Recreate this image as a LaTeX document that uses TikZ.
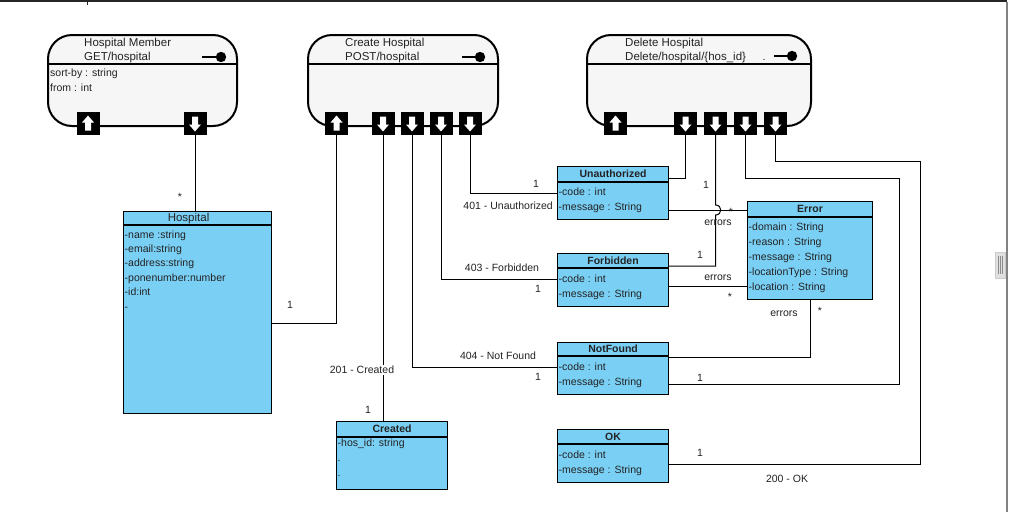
\documentclass[tikz,border=0pt]{standalone}
\usepackage{fontspec}
\setmainfont{Liberation Sans}
\usetikzlibrary{calc}

\definecolor{clsfill}{RGB}{122,207,245}
\definecolor{apifill}{RGB}{246,246,246}
\definecolor{txt}{RGB}{35,35,35}
\definecolor{framegray}{RGB}{130,130,130}

\tikzset{
  api/.style={draw=black, line width=2pt, fill=apifill, rounded corners=24pt,
    anchor=north west, inner sep=0},
  cls/.style={draw=black, line width=1.1pt, fill=clsfill, anchor=north west, inner sep=0},
  conn/.style={draw=black, line width=1pt},
  apititle/.style={anchor=west, inner sep=0, text=txt, font=\fontsize{11.5}{13}\selectfont},
  attr/.style={anchor=base west, inner sep=0, text=txt, font=\fontsize{10.5}{12}\selectfont},
  ttlbold/.style={inner sep=0, text=txt, font=\bfseries\fontsize{10.5}{12}\selectfont},
  ttlreg/.style={inner sep=0, text=txt, font=\fontsize{11.5}{12}\selectfont},
  lbl/.style={inner sep=0, text=txt, font=\fontsize{10.5}{12}\selectfont},
  portbase/.style={fill=black, minimum size=23pt, inner sep=0},
  portup/.style={portbase, path picture={
    \fill[white] ($(path picture bounding box.center)+(0,-8)$) -- ++(6,7) -- ++(-3,0)
      -- ++(0,8) -- ++(-6,0) -- ++(0,-8) -- ++(-3,0) -- cycle;}},
  portdown/.style={portbase, path picture={
    \fill[white] ($(path picture bounding box.center)+(0,8)$) -- ++(6,-7) -- ++(-3,0)
      -- ++(0,-8) -- ++(-6,0) -- ++(0,8) -- ++(-3,0) -- cycle;}},
}

% class box: name, top-left, width, height, header height, title, title style
\newcommand\umlclass[7]{%
  \node[cls, minimum width=#3pt, minimum height=#4pt] (#1) at (#2) {};
  \draw[line width=1.1pt] ([yshift=-#5pt]#1.north west) -- ([yshift=-#5pt]#1.north east);
  \node[#7] (#1-title) at ($(#1.north)+(0,#5/2)$) {#6};}

% attribute lines: node, first baseline offset, line spacing, list
\newcommand\umlattrs[4]{%
  \foreach \attrtext [count=\i from 0] in {#4}
    \node[attr] (#1-a\i) at ($(#1.north west)+(1.5,#2+#3*\i)$) {\attrtext};}

% endpoint box: name, top-left, width, title indent, two title lines
\newcommand\apibox[6]{%
  \node[api, minimum width=#3pt, minimum height=91pt] (#1) at (#2) {};
  \draw[line width=1.3pt] ([yshift=-30pt]#1.north west) -- ([yshift=-30pt]#1.north east);
  \node[apititle] (#1-t1) at ($(#1.north west)+(#4,9.5)$) {#5};
  \node[apititle] (#1-t2) at ($(#1.north west)+(#4,24)$) {#6};}

\begin{document}
\begin{tikzpicture}[x=1pt, y=-1pt]
  \useasboundingbox (0,0) rectangle (1009,512);
  \fill[white] (0,0) rectangle (1009,512);

  % window frame
  \draw[line width=2pt, black!85] (0,1) -- (1007,1);
  \draw[line width=1pt, black!85] (87,0) -- (87,5);
  \draw[line width=1.5pt, framegray] (1007,2) -- (1007,512);
  \node[draw=black!20, fill=black!12, minimum width=10pt, minimum height=26pt,
        inner sep=0, anchor=north west] (grip) at (995,252) {};
  \foreach \gx in {-2,0,2}
    \draw[line width=0.8pt, black!45] ($(grip.north)+(\gx,4)$) -- ($(grip.south)+(\gx,-4)$);

  % endpoints
  \apibox{member}{47,34}{189}{37}{Hospital Member}{GET/hospital}
  \apibox{create}{307,34}{190}{38}{Create Hospital}{POST/hospital}
  \apibox{delete}{586,34}{224}{39}{Delete Hospital}{Delete/hospital/\{hos\_id\}}
  \node[lbl] (delete-dot) at (764,60) {.};
  \node[attr] (member-a0) at (50,76) {sort-by : string};
  \node[attr] (member-a1) at (50,91) {from : int};

  % lollipops
  \draw[line width=2pt] (202,57) -- (217,57);
  \fill (221,57) circle (5.2);
  \draw[line width=2pt] (462,57) -- (476,57);
  \fill (480,57) circle (5.2);
  \draw[line width=2pt] (774,56) -- (788,56);
  \fill (792,56) circle (5.2);

  % ports
  \node[portup]   (mu) at (88,123.5) {};
  \node[portdown] (md) at (195,123.5) {};
  \node[portup]   (cu) at (336.5,123.5) {};
  \node[portdown] (c1) at (383,123.5) {};
  \node[portdown] (c2) at (412,123.5) {};
  \node[portdown] (c3) at (441,123.5) {};
  \node[portdown] (c4) at (470,123.5) {};
  \node[portup]   (du) at (615.5,123.5) {};
  \node[portdown] (d1) at (685.5,123.5) {};
  \node[portdown] (d2) at (715.5,123.5) {};
  \node[portdown] (d3) at (745.5,123.5) {};
  \node[portdown] (d4) at (775.5,123.5) {};

  % classes
  \umlclass{hosp}{123,211}{148}{202}{14}{Hospital}{ttlreg, xshift=-9pt, yshift=-1pt}
  \umlattrs{hosp}{27}{14.4}{-name :string, -email:string, -address:string,
    -ponenumber:number, -id:int, -}
  \umlclass{unauth}{557,166}{111}{53}{16}{Unauthorized}{ttlbold}
  \umlattrs{unauth}{29}{15}{-code : int, -message : String}
  \umlclass{forb}{557,253}{111}{53}{15}{Forbidden}{ttlbold}
  \umlattrs{forb}{29}{15}{-code : int, -message : String}
  \umlclass{notfound}{557,342}{111}{52}{14}{NotFound}{ttlbold}
  \umlattrs{notfound}{28}{15}{-code : int, -message : String}
  \umlclass{ok}{557,429}{111}{53}{15}{OK}{ttlbold}
  \umlattrs{ok}{29}{15}{-code : int, -message : String}
  \umlclass{err}{747,201}{125}{98}{16}{Error}{ttlbold}
  \umlattrs{err}{29}{15}{-domain : String, -reason : String, -message : String,
    -locationType : String, -location : String}
  \umlclass{created}{336,421}{111}{68}{16}{Created}{ttlbold}
  \umlattrs{created}{25}{15}{-hos\_id: string, ., .}

  % routing points on the right
  \coordinate (rt1) at (899,178);
  \coordinate (rt2) at (920,161);
  \coordinate (ue) at ([yshift=-44pt]unauth.north east);
  \coordinate (fe) at ([yshift=-13pt]forb.north east);
  \coordinate (fm) at ([yshift=-33pt]forb.north east);

  % connectors
  \draw[conn] (md.south) -- (md.south |- hosp.north);
  \draw[conn] (cu.south) |- ([yshift=-112pt]hosp.north east);
  \draw[conn] (c1.south) -- (c1.south |- created.north);
  \draw[conn] (c2.south) |- ([yshift=-25pt]notfound.north west);
  \draw[conn] (c3.south) |- ([yshift=-26pt]forb.north west);
  \draw[conn] (c4.south) |- ([yshift=-27pt]unauth.north west);
  \draw[conn] (d1.south) |- ([yshift=-12pt]unauth.north east);
  \draw[conn] (d2.south) -- ([yshift=5pt]d2.south |- ue)
    .. controls +(7,0) and +(7,0) .. ([yshift=-5pt]d2.south |- ue)
    -- (d2.south |- fe) -- (fe);
  \draw[conn] (d3.south) |- (rt1) |- ([yshift=-42pt]notfound.north east);
  \draw[conn] (d4.south) |- (rt2) |- ([yshift=-35pt]ok.north east);
  \draw[conn] (ue) -- (ue -| err.west);
  \draw[conn] (fm) -- (fm -| err.west);
  \draw[conn] ([yshift=-15pt]notfound.north east) -| (err.south);

  % connector labels
  \node[lbl] (m1) at (180,197) {*};
  \node[lbl] (m2) at (290,305) {1};
  \node[lbl, fill=white, inner sep=1.5pt] (m3) at (362,370) {201 - Created};
  \node[lbl] (m4) at (368,410) {1};
  \node[lbl] (m5) at (498,356) {404 - Not Found};
  \node[lbl] (m6) at (538,377) {1};
  \node[lbl] (m7) at (502,268) {403 - Forbidden};
  \node[lbl] (m8) at (538,289) {1};
  \node[lbl] (m9) at (536,184) {1};
  \node[lbl, anchor=east] (m10) at (553,206) {401 - Unauthorized};
  \node[lbl] (m11) at (706,185) {1};
  \node[lbl] (m12) at (700,255) {1};
  \node[lbl] (m13) at (731,212) {*};
  \node[lbl] (m14) at (718,223) {errors};
  \node[lbl] (m15) at (718,278) {errors};
  \node[lbl] (m16) at (730,297) {*};
  \node[lbl] (m17) at (784,314) {errors};
  \node[lbl] (m18) at (820,311) {*};
  \node[lbl] (m19) at (700,378) {1};
  \node[lbl] (m20) at (700,453) {1};
  \node[lbl] (m21) at (787,479) {200 - OK};
\end{tikzpicture}
\end{document}
